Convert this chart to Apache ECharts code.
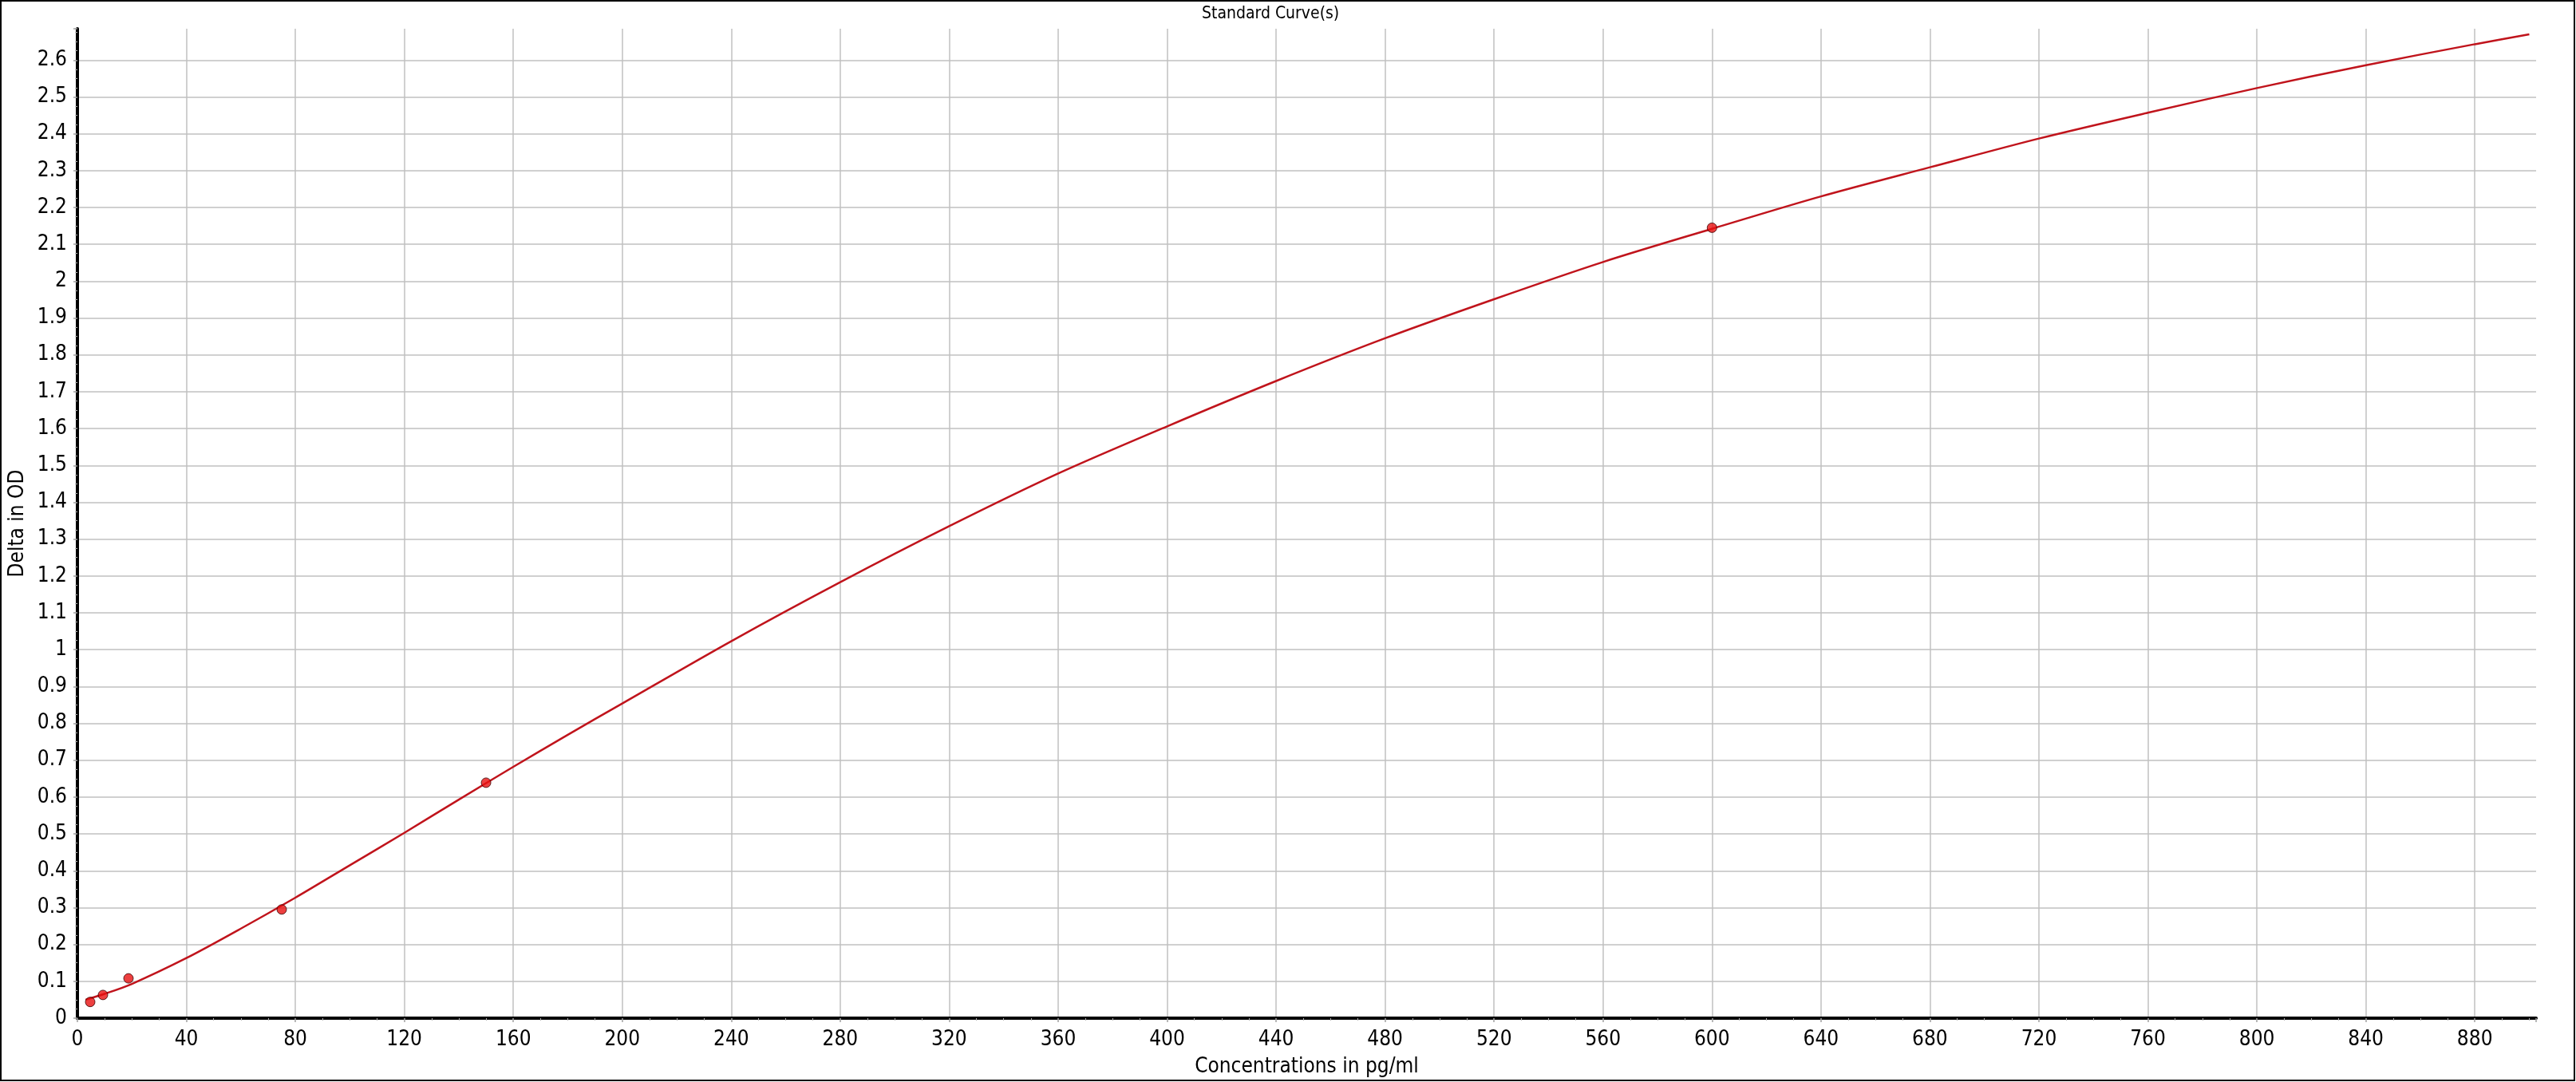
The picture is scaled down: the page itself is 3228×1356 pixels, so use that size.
<!DOCTYPE html>
<html>
<head>
<meta charset="utf-8">
<script src="https://cdn.jsdelivr.net/npm/echarts@6/dist/echarts.min.js"></script>
<style>
html,body{margin:0;padding:0;background:#fff;}
#chart{width:3228px;height:1356px;}
</style>
</head>
<body>
<div id="chart"></div>
<script>
// Fitted standard curve
const curveX = [3, 10, 20, 40, 60, 80, 100, 120, 140, 160, 180, 200, 240, 280, 320, 360, 400, 440, 480, 520, 560, 600, 640, 680, 720, 760, 800, 840, 880, 900];
const curveY = [0.050, 0.066, 0.093, 0.163, 0.243, 0.327, 0.415, 0.503, 0.593, 0.682, 0.769, 0.854, 1.023, 1.183, 1.335, 1.478, 1.606, 1.729, 1.845, 1.951, 2.052, 2.142, 2.230, 2.309, 2.387, 2.457, 2.524, 2.586, 2.643, 2.670];
// Standards (measured points)
const stdX = [4.69, 9.375, 18.75, 75, 150, 600];
const stdY = [0.044, 0.063, 0.108, 0.295, 0.639, 2.145];

const titleText = 'Standard Curve(s)';
const xName = 'Concentrations in pg/ml';
const yName = 'Delta in OD';

const FONT = "'DejaVu Sans Condensed', 'DejaVu Sans', sans-serif";
const chart = echarts.init(document.getElementById('chart'), null, {renderer: 'canvas'});

function axisBase() {
  return {
    axisLine: {show: true, onZero: false, lineStyle: {color: '#000', width: 4}},
    axisTick: {show: true, length: 5, lineStyle: {color: '#a0a0a0', width: 1.5}},
    minorTick: {show: true, splitNumber: 4, length: 3, lineStyle: {color: '#b0b0b0', width: 1}},
    splitLine: {show: true, showMinLine: false, showMaxLine: false, lineStyle: {color: '#c0c0c0', width: 1.5}},
    minorSplitLine: {show: false},
    nameTextStyle: {fontFamily: FONT, fontSize: 26, color: '#000'}
  };
}

chart.setOption({
  animation: false,
  backgroundColor: '#fff',
  title: {
    text: titleText,
    left: 1506,
    top: 7,
    padding: 0,
    textStyle: {fontFamily: FONT, fontSize: 21, fontWeight: 'normal', color: '#000'}
  },
  grid: {left: 97, right: 50, top: 36, bottom: 80, containLabel: false},
  xAxis: Object.assign(axisBase(), {
    type: 'value',
    min: 0,
    max: 902.5,
    interval: 40,
    name: xName,
    nameLocation: 'middle',
    nameGap: 48,
    axisLabel: {
      fontFamily: FONT, fontSize: 26, color: '#000', margin: 14,
      showMaxLabel: false,
      formatter: function (v) { return (Math.round(v) % 40 === 0) ? String(Math.round(v)) : ''; }
    }
  }),
  yAxis: Object.assign(axisBase(), {
    type: 'value',
    min: 0,
    max: 2.685,
    interval: 0.1,
    name: yName,
    nameLocation: 'middle',
    nameGap: 62,
    axisLabel: {
      fontFamily: FONT, fontSize: 26, color: '#000', margin: 13,
      showMaxLabel: false,
      formatter: function (v) { return String(Math.round(v * 10) / 10); }
    }
  }),
  graphic: [{
    type: 'rect',
    silent: true,
    shape: {x: 1, y: 1, width: 3225, height: 1353},
    style: {fill: null, stroke: '#000', lineWidth: 2},
    z: 100
  }],
  series: [
    {
      type: 'line',
      data: curveX.map((x, i) => [x, curveY[i]]),
      smooth: 0.3,
      showSymbol: false,
      symbol: 'none',
      lineStyle: {color: '#c0141c', width: 2.5},
      z: 2
    },
    {
      type: 'scatter',
      data: stdX.map((x, i) => [x, stdY[i]]),
      symbol: 'circle',
      symbolSize: 12,
      itemStyle: {color: '#e81010', borderColor: '#3a0000', borderWidth: 1},
      z: 3
    }
  ]
});
</script>
</body>
</html>
